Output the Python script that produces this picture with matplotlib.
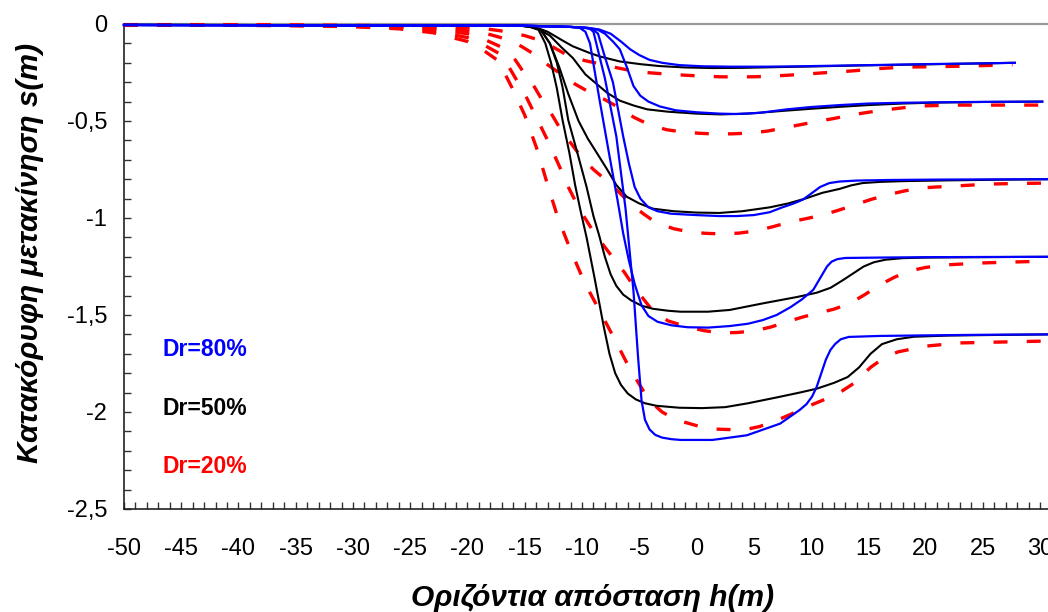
import matplotlib
matplotlib.use("Agg")
import matplotlib.pyplot as plt
from matplotlib.ticker import MultipleLocator, FixedLocator, FixedFormatter

plt.rcParams['font.family'] = ['Liberation Sans', 'DejaVu Sans']
plt.rcParams['axes.unicode_minus'] = False

# Axis ticks and labels
x_ticks = [-50, -45, -40, -35, -30, -25, -20, -15, -10, -5, 0, 5, 10, 15, 20, 25, 30]
x_tick_labels = ['-50', '-45', '-40', '-35', '-30', '-25', '-20', '-15', '-10', '-5',
                 '0', '5', '10', '15', '20', '25', '30']
y_ticks = [0, -0.5, -1, -1.5, -2, -2.5]
y_tick_labels = ['0', '-0,5', '-1', '-1,5', '-2', '-2,5']

x_label = 'Οριζόντια απόσταση h(m)'
y_label = 'Κατακόρυφη μετακίνηση s(m)'

# ---- Dr = 80 % (blue, solid) ----
dr80_h1 = [-50, -30, -15, -11, -9.5, -8.5, -7.5, -6.6, -5.8, -5.0, -4.1, -3.0, -1.5, 0.5,
           3, 6, 9, 13, 17, 21, 25, 27.8]
dr80_s1 = [-0.005, -0.006, -0.009, -0.015, -0.02, -0.028, -0.05, -0.09, -0.13, -0.16, -0.185,
           -0.2, -0.212, -0.218, -0.22, -0.22, -0.218, -0.214, -0.21, -0.206, -0.203, -0.2]

dr80_h2 = [-50, -15, -11, -9.5, -8.6, -8.0, -7.3, -6.7, -6.1, -5.5, -4.9, -4.2, -3.2, -1.8,
           0, 2, 3.5, 5.5, 7.9, 10, 12.5, 15, 18, 22, 26, 30.2]
dr80_s2 = [-0.005, -0.009, -0.015, -0.02, -0.03, -0.05, -0.09, -0.13, -0.22, -0.32, -0.37,
           -0.40, -0.425, -0.445, -0.455, -0.462, -0.464, -0.458, -0.44, -0.428, -0.418, -0.41,
           -0.406, -0.403, -0.401, -0.4]

dr80_h3 = [-50, -15, -11, -9.6, -9.0, -8.6, -8.0, -7.3, -6.4, -5.9, -5.4, -4.9, -4.2, -3.4,
           -2.2, 0, 2, 3.5, 5, 6.4, 7.5, 8.5, 9.3, 10.0, 10.8, 11.6, 12.5, 14, 17, 21, 25, 30.7]
dr80_s3 = [-0.005, -0.009, -0.015, -0.02, -0.03, -0.05, -0.17, -0.30, -0.58, -0.72, -0.84,
           -0.9, -0.945, -0.965, -0.978, -0.985, -0.99, -0.99, -0.985, -0.97, -0.945, -0.925,
           -0.905, -0.875, -0.84, -0.82, -0.812, -0.807, -0.804, -0.802, -0.801, -0.8]

dr80_h4 = [-50, -15, -11, -10.2, -9.7, -9.3, -8.5, -7.6, -6.9, -6.4, -5.9, -5.4, -4.8, -4.2,
           -3.4, -2.2, -0.8, 1, 2.9, 4.5, 5.8, 7, 8.2, 9.2, 10.2, 10.6, 11.0, 11.4, 11.8, 12.3,
           13, 14.5, 16, 20, 25, 30.7]
dr80_s4 = [-0.005, -0.009, -0.015, -0.02, -0.04, -0.1, -0.38, -0.68, -0.907, -1.08, -1.22,
           -1.34, -1.45, -1.505, -1.535, -1.553, -1.563, -1.565, -1.557, -1.545, -1.526, -1.5,
           -1.46, -1.42, -1.37, -1.33, -1.29, -1.25, -1.225, -1.212, -1.206, -1.205, -1.204,
           -1.202, -1.201, -1.2]

dr80_h5 = [-50, -15, -11, -9.8, -9.3, -9.0, -8.0, -7.0, -6.2, -5.5, -5.1, -4.8, -4.5, -4.1,
           -3.6, -3.0, -2.2, -1.4, 1.4, 4.4, 7.3, 9.0, 9.6, 10.1, 10.5, 10.9, 11.3, 11.7, 12.1,
           12.6, 13.3, 16, 20, 25, 30.7]
dr80_s5 = [-0.005, -0.009, -0.015, -0.02, -0.025, -0.04, -0.28, -0.58, -0.95, -1.38, -1.72,
           -1.94, -2.04, -2.09, -2.118, -2.132, -2.14, -2.144, -2.144, -2.12, -2.06, -1.99,
           -1.96, -1.92, -1.87, -1.80, -1.73, -1.68, -1.65, -1.625, -1.613, -1.608, -1.605,
           -1.602, -1.6]

# ---- Dr = 50 % (black, solid) ----
dr50_h1 = [-50, -20, -15.5, -14.5, -13.9, -13.0, -11.7, -10.8, -9.3, -8.4, -6.7, -4.9, -3.2,
           -1, 1.4, 4, 7.3, 10, 14, 18, 22, 25, 27.8]
dr50_s1 = [-0.005, -0.006, -0.008, -0.012, -0.02, -0.04, -0.085, -0.115, -0.15, -0.168, -0.193,
           -0.207, -0.217, -0.224, -0.227, -0.226, -0.222, -0.219, -0.214, -0.21, -0.206,
           -0.203, -0.2]

dr50_h2 = [-50, -20, -15.5, -14.5, -13.7, -12.8, -11.8, -10.8, -9.7, -8.7, -7.8, -6.7, -5.5,
           -4.3, -2.5, 0, 2.1, 4.5, 7.5, 10, 12.5, 15, 18, 21, 25, 30.2]
dr50_s2 = [-0.005, -0.006, -0.008, -0.014, -0.03, -0.06, -0.12, -0.175, -0.26, -0.31, -0.355,
           -0.395, -0.42, -0.44, -0.452, -0.462, -0.466, -0.462, -0.448, -0.437, -0.427,
           -0.418, -0.41, -0.405, -0.402, -0.4]

dr50_h3 = [-50, -20, -15.5, -14.5, -13.6, -12.8, -12.0, -11.2, -10.3, -9.5, -8.7, -7.8, -7.0,
           -6.1, -5.0, -3.8, -2, 0, 2, 4, 6.4, 8, 9.5, 11, 12.5, 13.5, 14.5, 16, 18, 22, 26, 30.7]
dr50_s3 = [-0.005, -0.006, -0.008, -0.014, -0.03, -0.1, -0.22, -0.36, -0.5, -0.59, -0.665,
           -0.75, -0.83, -0.89, -0.925, -0.952, -0.965, -0.972, -0.974, -0.965, -0.945, -0.925,
           -0.9, -0.87, -0.85, -0.832, -0.82, -0.814, -0.81, -0.806, -0.803, -0.8]

dr50_h4 = [-50, -20, -15.5, -14.5, -13.6, -12.8, -12.2, -11.7, -11.2, -10.4, -9.6, -9.0, -8.5,
           -8.0, -7.5, -7.0, -6.4, -5.7, -4.8, -3.8, -2.5, -1.4, 1, 2.9, 5.8, 8.8, 10.5, 11.7,
           12.8, 13.7, 14.6, 15.5, 16.5, 18, 20, 24, 30.7]
dr50_s4 = [-0.005, -0.006, -0.008, -0.014, -0.03, -0.1, -0.2, -0.325, -0.495, -0.665, -0.84,
           -0.99, -1.09, -1.2, -1.29, -1.35, -1.395, -1.425, -1.452, -1.468, -1.478, -1.483,
           -1.483, -1.474, -1.44, -1.407, -1.385, -1.36, -1.32, -1.285, -1.25, -1.228, -1.215,
           -1.207, -1.204, -1.202, -1.2]

dr50_h5 = [-50, -20, -15.5, -14.6, -13.8, -13.2, -12.7, -12.2, -11.7, -11.1, -10.6, -10.1,
           -9.6, -8.9, -8.1, -7.6, -7.1, -6.6, -6.0, -5.3, -4.5, -3.5, -1.5, 0.5, 2.5, 4.5, 7,
           9, 10.5, 12, 13.2, 14.2, 15.2, 16.2, 17.5, 19, 22, 26, 30.7]
dr50_s5 = [-0.005, -0.006, -0.008, -0.014, -0.03, -0.1, -0.2, -0.33, -0.495, -0.665, -0.83,
           -0.97, -1.1, -1.31, -1.56, -1.7, -1.8, -1.86, -1.905, -1.935, -1.955, -1.968,
           -1.978, -1.98, -1.975, -1.955, -1.925, -1.9, -1.88, -1.85, -1.82, -1.77, -1.7,
           -1.65, -1.625, -1.612, -1.606, -1.603, -1.6]

# ---- Dr = 20 % (red, dashed) ----
dr20_h1 = [-50, -40, -35, -30, -26, -23, -20, -18, -16.5, -15, -13.9, -12.5, -11.3, -9.8, -8.4,
           -7, -5.5, -4, -2.6, -1, 0.3, 2, 3.3, 5, 6.2, 8, 9.5, 11, 12.4, 14, 15.3, 17, 18.2,
           21.1, 24.1, 27.6]
dr20_s1 = [-0.005, -0.005, -0.006, -0.007, -0.009, -0.012, -0.02, -0.028, -0.04, -0.06, -0.08,
           -0.12, -0.16, -0.188, -0.206, -0.225, -0.243, -0.252, -0.258, -0.264, -0.268,
           -0.272, -0.273, -0.272, -0.27, -0.264, -0.258, -0.252, -0.247, -0.24, -0.232,
           -0.226, -0.222, -0.22, -0.216, -0.21]

dr20_h2 = [-50, -40, -35, -30, -26, -23, -20, -18, -16.5, -15.3, -14.2, -13, -11.8, -10.6,
           -9.4, -8, -6.8, -5.5, -4.1, -2.6, -1.2, 0.2, 1.6, 3.2, 4.7, 6.2, 7.6, 9, 10.3, 12,
           13.4, 15, 16.5, 18, 19.3, 22.3, 26, 30.2]
dr20_s2 = [-0.005, -0.005, -0.006, -0.009, -0.012, -0.018, -0.035, -0.055, -0.08, -0.115,
           -0.155, -0.21, -0.26, -0.31, -0.35, -0.39, -0.43, -0.48, -0.52, -0.545, -0.557,
           -0.563, -0.567, -0.566, -0.562, -0.552, -0.536, -0.52, -0.505, -0.487, -0.47,
           -0.455, -0.443, -0.432, -0.423, -0.418, -0.418, -0.418]

dr20_h3 = [-50, -40, -35, -30, -26, -23, -20, -18.5, -17, -16, -15.2, -14.3, -13.5, -12.6,
           -11.8, -10.9, -10.0, -9, -8.0, -6.8, -5.7, -4.6, -3.5, -2, -0.6, 0.8, 2.2, 3.7, 5.1,
           6.6, 8.2, 9.6, 11, 12.4, 13.8, 15.2, 16.7, 18.2, 19.7, 21, 22.6, 25.6, 28, 30.7]
dr20_s3 = [-0.005, -0.005, -0.007, -0.01, -0.015, -0.025, -0.05, -0.08, -0.12, -0.17, -0.24,
           -0.31, -0.39, -0.47, -0.55, -0.62, -0.69, -0.75, -0.80, -0.865, -0.93, -0.98,
           -1.025, -1.055, -1.072, -1.079, -1.082, -1.078, -1.067, -1.046, -1.02, -1.003,
           -0.985, -0.96, -0.933, -0.905, -0.88, -0.86, -0.845, -0.84, -0.835, -0.825, -0.822,
           -0.82]

dr20_h4 = [-50, -40, -35, -30, -26, -23, -20, -18.5, -17, -16, -15, -14, -13, -12, -11.2, -10.6,
           -9.8, -9.0, -8.0, -7.1, -6.3, -5.5, -4.6, -3.8, -2.5, -0.9, 0.6, 2.1, 3.6, 5.0, 6.5,
           7.9, 9.3, 10.6, 12, 13.4, 14.7, 16.0, 17.3, 18.6, 20, 21.7, 24.8, 27.6, 30.7]
dr20_s4 = [-0.005, -0.006, -0.008, -0.012, -0.02, -0.035, -0.07, -0.11, -0.16, -0.26, -0.36,
           -0.48, -0.6, -0.73, -0.84, -0.91, -0.995, -1.07, -1.15, -1.22, -1.28, -1.35, -1.42,
           -1.48, -1.53, -1.56, -1.58, -1.593, -1.59, -1.582, -1.562, -1.535, -1.51, -1.49,
           -1.47, -1.44, -1.395, -1.345, -1.305, -1.273, -1.255, -1.242, -1.232, -1.227, -1.222]

dr20_h5 = [-50, -40, -35, -30, -26, -23, -20, -18.5, -17.3, -16.1, -15, -13.9, -13.0, -12.1,
           -11.0, -9.8, -8.5, -7.1, -5.8, -4.1, -3, -1.8, 0, 1.6, 4.1, 5.5, 6.9, 8.3, 9.6, 11,
           12.5, 13.8, 15.2, 16.4, 17.6, 20.1, 23, 26.1, 30.7]
dr20_s5 = [-0.005, -0.007, -0.009, -0.014, -0.025, -0.045, -0.09, -0.14, -0.19, -0.33, -0.47,
           -0.65, -0.83, -1.0, -1.165, -1.33, -1.474, -1.63, -1.78, -1.943, -2.0, -2.04, -2.07,
           -2.088, -2.093, -2.075, -2.046, -2.01, -1.974, -1.94, -1.90, -1.85, -1.77, -1.72,
           -1.69, -1.66, -1.644, -1.64, -1.634]

# Series labels drawn inside the plot
series_labels = ['Dr=80%', 'Dr=50%', 'Dr=20%']
series_colors = ['#0000ff', '#000000', '#ff0000']
label_h = -46.6
label_s = [-1.68, -1.98, -2.28]

dr80 = [(dr80_h1, dr80_s1), (dr80_h2, dr80_s2), (dr80_h3, dr80_s3),
        (dr80_h4, dr80_s4), (dr80_h5, dr80_s5)]
dr50 = [(dr50_h1, dr50_s1), (dr50_h2, dr50_s2), (dr50_h3, dr50_s3),
        (dr50_h4, dr50_s4), (dr50_h5, dr50_s5)]
dr20 = [(dr20_h1, dr20_s1), (dr20_h2, dr20_s2), (dr20_h3, dr20_s3),
        (dr20_h4, dr20_s4), (dr20_h5, dr20_s5)]

W, H = 1048, 612
fig = plt.figure(figsize=(W / 100, H / 100), dpi=100)
ax = fig.add_axes([124 / W, 1 - 509 / H, 924 / W, 485 / H])

for h, s in dr20:
    ax.plot(h, s, color='#ff0000', lw=2.4, dashes=(4.2, 5.75), clip_on=False, zorder=3)
for h, s in dr50:
    ax.plot(h, s, color='#000000', lw=1.5, clip_on=False, zorder=4,
            solid_joinstyle='round')
for h, s in dr80:
    ax.plot(h, s, color='#0000ff', lw=1.6, clip_on=False, zorder=5,
            solid_joinstyle='round')

ax.set_xlim(-50, 30.7)
ax.set_ylim(-2.5, 0)

ax.xaxis.set_major_locator(FixedLocator(x_ticks))
ax.xaxis.set_major_formatter(FixedFormatter(x_tick_labels))
ax.xaxis.set_minor_locator(MultipleLocator(1))
ax.yaxis.set_major_locator(FixedLocator(y_ticks))
ax.yaxis.set_major_formatter(FixedFormatter(y_tick_labels))
ax.yaxis.set_minor_locator(MultipleLocator(0.1))

ax.tick_params(which='both', direction='in', length=5, width=1, color='#333333',
               top=False, right=False)
ax.tick_params(axis='x', which='major', labelsize=17, pad=21)
ax.tick_params(axis='y', which='major', labelsize=17, pad=12)

ax.spines['right'].set_visible(False)
ax.spines['top'].set_color('#9a9a9a')
ax.spines['top'].set_linewidth(1.6)
for side in ('left', 'bottom'):
    ax.spines[side].set_color('#222222')
    ax.spines[side].set_linewidth(1.2)

ax.set_xlabel(x_label, fontsize=21.5, fontweight='bold', fontstyle='italic')
ax.set_ylabel(y_label, fontsize=21.5, fontweight='bold', fontstyle='italic')
ax.xaxis.label.set_va('center')
ax.yaxis.label.set_va('center')
ax.xaxis.set_label_coords((593 - 124) / 924, (509 - 598) / 485)
ax.yaxis.set_label_coords((30 - 124) / 924, (509 - 253) / 485)

for text, color, s in zip(series_labels, series_colors, label_s):
    ax.text(label_h, s, text, color=color, fontsize=16.5, fontweight='bold',
            ha='left', va='center')

fig.savefig('out.png', dpi=100)
